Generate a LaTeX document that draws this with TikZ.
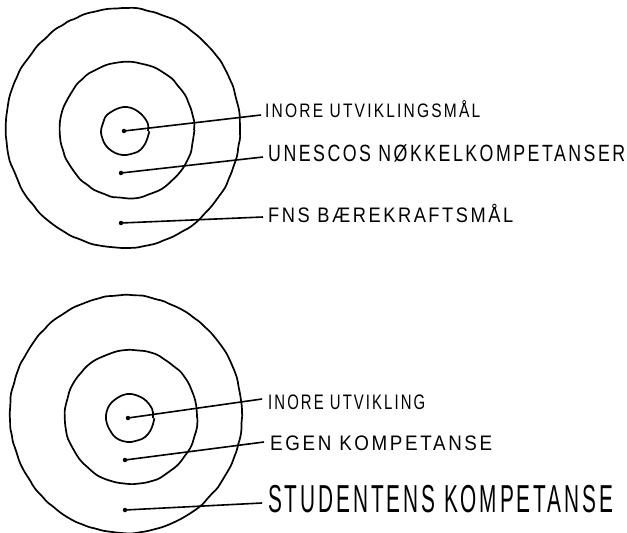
\documentclass[tikz,border=0pt]{standalone}
\usepackage{fontspec}
\setmainfont{Liberation Sans}
\newfontfamily\hand[LetterSpace=14]{Liberation Sans}
\usepackage{graphicx}
\usetikzlibrary{decorations.pathmorphing}
\begin{document}
\begin{tikzpicture}[x=1bp,y=-1bp,
  ring/.style={line width=1.7bp, decorate, decoration={random steps, segment length=7bp, amplitude=0.6bp}, rounded corners=2bp},
  dot/.style={circle, fill, inner sep=0pt, minimum size=4.5bp},
  lbl/.style={inner sep=0pt, anchor=base west, font=\hand},
  con/.style={line width=1.6bp}]
\pgfmathsetseed{7}
\useasboundingbox (0,0) rectangle (627,533);
% top target
\draw[ring] (123,128) ellipse [x radius=117bp, y radius=120bp];
\draw[ring] (127,130) ellipse [x radius=67bp, y radius=68bp];
\draw[ring] (125,131) ellipse [x radius=23bp, y radius=23bp];
\node[dot] (d1) at (124,131) {};
\node[dot] (d2) at (121,173) {};
\node[dot] (d3) at (121,223) {};
\node[lbl] (t1) at (265,118) {\fontsize{19.5bp}{20bp}\selectfont\resizebox{215bp}{\height}{INORE UTVIKLINGSMÅL}};
\node[lbl] (t2) at (268,162) {\fontsize{23.5bp}{24bp}\selectfont\resizebox{357bp}{\height}{UNESCOS NØKKELKOMPETANSER}};
\node[lbl] (t3) at (268,223) {\fontsize{21bp}{22bp}\selectfont\resizebox{245bp}{\height}{FNS BÆREKRAFTSMÅL}};
\draw[con] (d1.center) -- ([xshift=-4bp,yshift=3bp]t1.base west);
\draw[con] (d2.center) -- ([xshift=-5bp,yshift=5bp]t2.base west);
\draw[con] (d3.center) -- ([xshift=-5bp,yshift=6bp]t3.base west);
% bottom target
\draw[ring] (126,414) ellipse [x radius=116bp, y radius=119bp];
\draw[ring] (131,417) ellipse [x radius=66bp, y radius=67bp];
\draw[ring] (130,418) ellipse [x radius=23bp, y radius=23bp];
\node[dot] (d4) at (128,418) {};
\node[dot] (d5) at (125,460) {};
\node[dot] (d6) at (125,510) {};
\node[lbl] (t4) at (268,409) {\fontsize{21bp}{22bp}\selectfont\resizebox{157bp}{\height}{INORE UTVIKLING}};
\node[lbl] (t5) at (270,450) {\fontsize{21bp}{22bp}\selectfont\resizebox{222bp}{\height}{EGEN KOMPETANSE}};
\node[lbl] (t6) at (268,512) {\fontsize{39bp}{40bp}\selectfont\resizebox{345bp}{\height}{STUDENTENS KOMPETANSE}};
\draw[con] (d4.center) -- ([xshift=-6bp,yshift=10bp]t4.base west);
\draw[con] (d5.center) -- ([xshift=-6bp,yshift=8bp]t5.base west);
\draw[con] (d6.center) -- ([xshift=-6bp,yshift=9bp]t6.base west);
\end{tikzpicture}
\end{document}
